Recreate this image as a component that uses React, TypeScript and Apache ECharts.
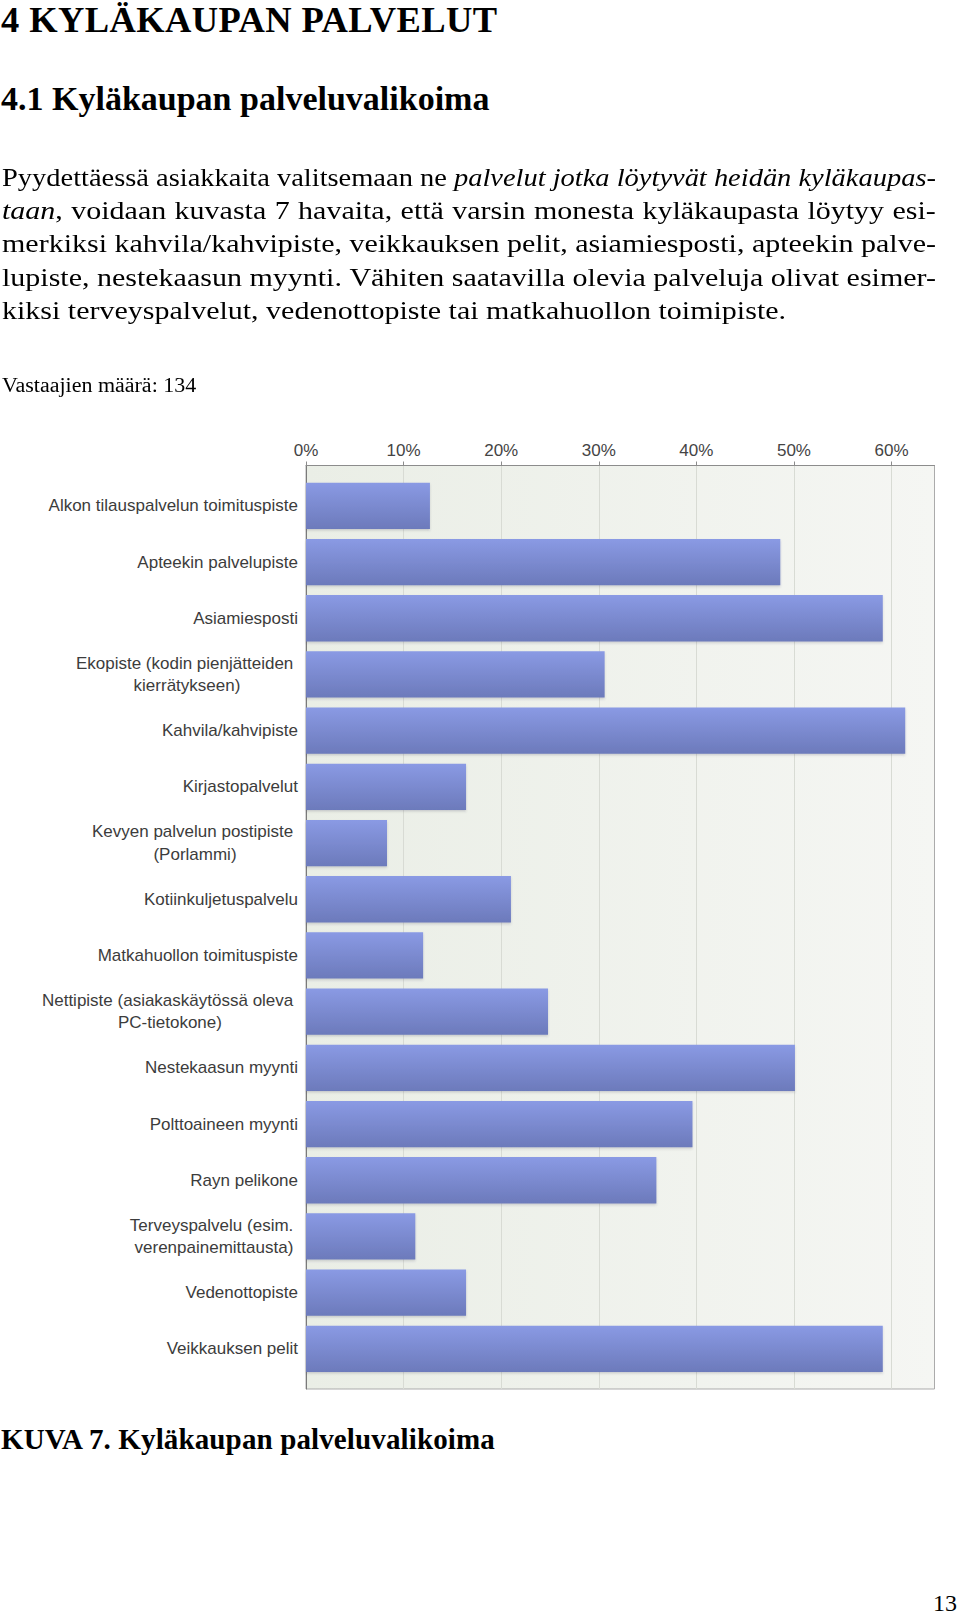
import React, { useEffect, useRef } from "react";
import * as echarts from "echarts";

// ---------- data ----------
const categories: string[] = [
  "Alkon tilauspalvelun toimituspiste",
  "Apteekin palvelupiste",
  "Asiamiesposti",
  "Ekopiste (kodin pienjätteiden \nkierrätykseen)",
  "Kahvila/kahvipiste",
  "Kirjastopalvelut",
  "Kevyen palvelun postipiste \n(Porlammi)",
  "Kotiinkuljetuspalvelu",
  "Matkahuollon toimituspiste",
  "Nettipiste (asiakaskäytössä oleva \nPC-tietokone)",
  "Nestekaasun myynti",
  "Polttoaineen myynti",
  "Rayn pelikone",
  "Terveyspalvelu (esim. \nverenpainemittausta)",
  "Vedenottopiste",
  "Veikkauksen pelit",
];
const shares: number[] = [12.7, 48.6, 59.1, 30.6, 61.4, 16.4, 8.3, 21.0, 12.0, 24.8, 50.1, 39.6, 35.9, 11.2, 16.4, 59.1];
const tickValues: number[] = [0, 10, 20, 30, 40, 50, 60];
const axisMax = 64.4;

// ---------- page text ----------
const paraLines: string[] = [
  "Pyydettäessä asiakkaita valitsemaan ne *palvelut* *jotka* *löytyvät* *heidän* *kyläkaupas-*",
  "*taan*, voidaan kuvasta 7 havaita, että varsin monesta kyläkaupasta löytyy esi-",
  "merkiksi kahvila/kahvipiste, veikkauksen pelit, asiamiesposti, apteekin palve-",
  "lupiste, nestekaasun myynti. Vähiten saatavilla olevia palveluja olivat esimer-",
];
const paraLast = "kiksi terveyspalvelut, vedenottopiste tai matkahuollon toimipiste.";

const SERIF = '"Liberation Serif", "Times New Roman", serif';
const SANS = '"Liberation Sans", Arial, sans-serif';

const CHART_TOP = 400;
const PARA_FONT = 25;
const PARA_SCALE = 1.2;
const PARA_WIDTH = 934;
const PARA_LINE = 33.3;

let measureCtx: CanvasRenderingContext2D | null = null;
function measure(text: string, italic: boolean): number {
  if (!measureCtx) measureCtx = document.createElement("canvas").getContext("2d");
  if (!measureCtx) return text.length * PARA_FONT * 0.42;
  measureCtx.font = `${italic ? "italic " : ""}${PARA_FONT}px "Liberation Serif"`;
  return measureCtx.measureText(text).width;
}

function wordWidth(w: string): number {
  return w.split("*").reduce((s, p, i) => s + measure(p, i % 2 === 1), 0);
}

function renderWord(w: string, key: number) {
  const parts = w.split("*");
  return (
    <span key={key} style={{ whiteSpace: "pre" }}>
      {parts.map((p, i) => (i % 2 === 1 ? <i key={i}>{p}</i> : <React.Fragment key={i}>{p}</React.Fragment>))}
    </span>
  );
}

function JustifiedLine({ line }: { line: string }) {
  const words = line.split(" ");
  const natural = words.reduce((s, w) => s + wordWidth(w), 0) + measure(" ", false) * (words.length - 1);
  const scale = Math.min(PARA_SCALE, PARA_WIDTH / natural);
  return (
    <div
      style={{
        display: "flex",
        justifyContent: "space-between",
        width: PARA_WIDTH / scale,
        height: PARA_LINE,
        whiteSpace: "nowrap",
        transform: `scaleX(${scale})`,
        transformOrigin: "0 0",
      }}
    >
      {words.map((w, wi) => renderWord(w, wi))}
    </div>
  );
}

export default function App() {
  const ref = useRef<HTMLDivElement>(null);

  useEffect(() => {
    document.body.style.margin = "0";
    const chart = echarts.init(ref.current as HTMLDivElement, null, { renderer: "svg" });

    const labelFormatter = (value: string) =>
      value
        .split("\n")
        .map((l) => `{c|${l}}`)
        .join("\n");

    const option: any = {
      animation: false,
      grid: [
        {
          left: 306,
          right: 25.5,
          top: 65.5,
          height: 923.5,
          show: true,
          backgroundColor: new echarts.graphic.LinearGradient(0, 0, 1, 0, [
            { offset: 0, color: "#eaeee6" },
            { offset: 1, color: "#f5f6f3" },
          ]),
          borderColor: "#ababab",
          borderWidth: 1,
        },
        { left: 306, right: 25.5, top: 77.75, height: 899.2 },
      ],
      xAxis: [
        {
          type: "value",
          gridIndex: 0,
          position: "top",
          min: 0,
          max: axisMax,
          interval: 10,
          axisLine: { show: true, onZero: false, lineStyle: { color: "#8c8c8c", width: 1 } },
          axisTick: { show: true, length: 4, lineStyle: { color: "#8c8c8c" }, customValues: tickValues },
          axisLabel: {
            margin: 7,
            fontSize: 17,
            color: "#444",
            fontFamily: SANS,
            customValues: tickValues,
            formatter: (v: number) => (tickValues.indexOf(v) >= 0 ? `${v}%` : ""),
          },
          splitLine: { show: true, lineStyle: { color: "#d8dbd4", width: 1 } },
        },
        { type: "value", gridIndex: 1, min: 0, max: axisMax, show: false },
      ],
      yAxis: [
        {
          type: "value",
          gridIndex: 0,
          min: 0,
          max: 1,
          axisLine: { show: true, onZero: false, lineStyle: { color: "#7a7a7a", width: 1 } },
          axisTick: { show: false },
          axisLabel: { show: false },
          splitLine: { show: false },
        },
        {
          type: "category",
          gridIndex: 1,
          inverse: true,
          data: categories,
          axisLine: { show: false },
          axisTick: { show: false },
          axisLabel: {
            interval: 0,
            margin: 8,
            formatter: labelFormatter,
            rich: {
              c: {
                align: "center",
                fontSize: 17,
                fontFamily: SANS,
                color: "#3c3c3c",
                lineHeight: 22.5,
              },
            },
          },
        },
      ],
      series: [
        {
          type: "bar",
          xAxisIndex: 1,
          yAxisIndex: 1,
          data: shares,
          barCategoryGap: "17.6%",
          itemStyle: {
            color: new echarts.graphic.LinearGradient(0, 0, 0, 1, [
              { offset: 0, color: "#8a9ae4" },
              { offset: 1, color: "#6c7abb" },
            ]),
            shadowColor: "rgba(60,60,90,0.22)",
            shadowBlur: 2,
            shadowOffsetY: 1.5,
          },
        },
      ],
    };

    chart.setOption(option);
    return () => chart.dispose();
  }, []);

  const abs: React.CSSProperties = { position: "absolute", margin: 0, whiteSpace: "nowrap" };

  return (
    <div style={{ position: "relative", width: 960, height: 1617, overflow: "hidden", background: "#fff", color: "#000" }}>
      <style>{"body{margin:0}"}</style>
      <div
        style={{
          ...abs,
          left: 1,
          top: 2.4,
          fontFamily: SERIF,
          fontWeight: "bold",
          fontSize: 36.5,
          lineHeight: "36.5px",
          letterSpacing: 0.4,
        }}
      >
        4 KYLÄKAUPAN PALVELUT
      </div>
      <div
        style={{ ...abs, left: 1, top: 81.5, fontFamily: SERIF, fontWeight: "bold", fontSize: 34, lineHeight: "34px" }}
      >
        4.1 Kyläkaupan palveluvalikoima
      </div>

      <div
        style={{
          position: "absolute",
          left: 1.5,
          top: 160.9,
          fontFamily: SERIF,
          fontSize: PARA_FONT,
          lineHeight: `${PARA_LINE}px`,
        }}
      >
        {paraLines.map((line, li) => (
          <JustifiedLine key={li} line={line} />
        ))}
        <div
          style={{
            height: PARA_LINE,
            whiteSpace: "nowrap",
            transform: `scaleX(${PARA_SCALE})`,
            transformOrigin: "0 0",
          }}
        >
          {paraLast}
        </div>
      </div>

      <div
        style={{
          ...abs,
          left: 1.5,
          top: 375,
          fontFamily: SERIF,
          fontSize: 20,
          lineHeight: "20px",
          transform: "scaleX(1.1)",
          transformOrigin: "0 0",
        }}
      >
        Vastaajien määrä: 134
      </div>

      <div ref={ref} style={{ position: "absolute", left: 0, top: CHART_TOP, width: 960, height: 1020 }} />

      <div
        style={{
          ...abs,
          left: 1,
          top: 1424.7,
          fontFamily: SERIF,
          fontWeight: "bold",
          fontSize: 29,
          lineHeight: "29px",
          letterSpacing: 0.13,
        }}
      >
        KUVA 7. Kyläkaupan palveluvalikoima
      </div>
      <div style={{ ...abs, right: 3, top: 1590.9, fontFamily: SERIF, fontSize: 24, lineHeight: "24px" }}>13</div>
    </div>
  );
}
